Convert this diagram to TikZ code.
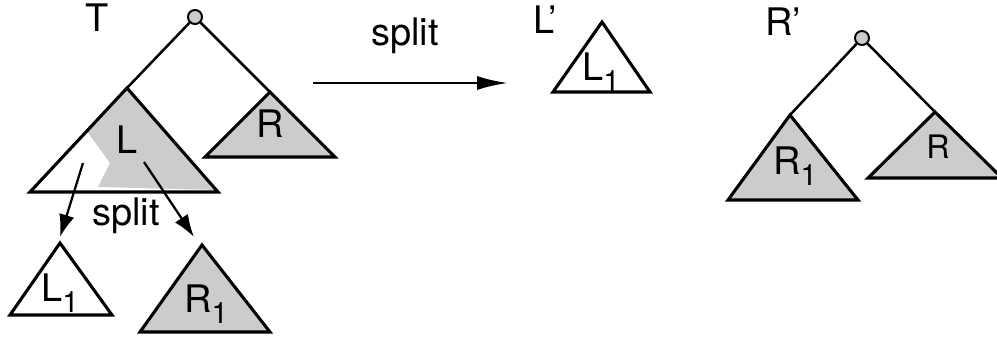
\documentclass[tikz,border=0pt]{standalone}
\usepackage{fontspec}
\setmainfont{TeX Gyre Heros}
\usetikzlibrary{arrows.meta}
\definecolor{treegray}{gray}{0.80}
\newcommand{\lowsub}[1]{\raisebox{-0.55ex}{\fontsize{21}{21}\selectfont #1}}
\tikzset{
  lbl/.style={font=\fontsize{27}{30}\selectfont, inner sep=0pt},
  tri/.style={line width=2.2pt, line join=miter},
  edge/.style={line width=1.8pt},
  knot/.style={circle, draw, line width=1.4pt, fill=treegray, minimum size=10pt, inner sep=0pt},
  splitarrow/.style={line width=1.6pt, -{Latex[length=16pt, width=11pt]}}
}
\begin{document}
\begin{tikzpicture}[x=0.025cm, y=-0.025cm]
\useasboundingbox (0,0) rectangle (997,336);
%% tree T
\node[knot] (rootT) at (195,17) {};
\coordinate (apexL) at (127,88);
\coordinate (apexR) at (270,92);
\fill[treegray] (apexL) -- (218,190) -- (98,187) -- (110,163) -- (86,130) -- cycle;
\draw[tri] (apexL) -- (30,192) -- (218,192) -- cycle;
\draw[tri, fill=treegray] (apexR) -- (205,157) -- (335,157) -- cycle;
\draw[edge] (rootT) -- (apexL);
\draw[edge] (rootT) -- (apexR);
\node[lbl] (labT) at (97,18) {T};
\node[lbl] (labL) at (127,140) {L};
\node[lbl] (labR) at (270,124) {R};
%% split of L
\coordinate (fromA) at (83,163);
\coordinate (toA) at (60,237);
\coordinate (fromB) at (144,162);
\coordinate (toB) at (194,237);
\draw[splitarrow] (fromA) -- (toA);
\draw[splitarrow] (fromB) -- (toB);
\node[lbl] (labsplitA) at (126,216) {split};
\draw[tri, fill=white] (60,243) -- (10,315) -- (112,315) -- cycle;
\node[lbl] (labLa) at (60,293) {L\lowsub{1}};
\draw[tri, fill=treegray] (202,245) -- (140,332) -- (270,332) -- cycle;
\node[lbl] (labRa) at (206,304) {R\lowsub{1}};
%% big arrow
\coordinate (fromC) at (313,83);
\coordinate (toC) at (508,83);
\draw[splitarrow, line width=2pt, -{Latex[length=22pt, width=10pt]}] (fromC) -- (toC);
\node[lbl] (labsplitB) at (405,36) {split};
%% L'
\node[lbl] (labLp) at (545,20) {L’};
\draw[tri] (602,22) -- (553,92) -- (650,92) -- cycle;
\node[lbl] (labLb) at (601,72) {L\lowsub{1}};
%% R'
\node[lbl] (labRp) at (783,22) {R’};
\node[knot] (rootR) at (862,38) {};
\coordinate (apexRa) at (790,115);
\coordinate (apexRb) at (935,112);
\draw[tri, fill=treegray] (apexRa) -- (728,200) -- (858,200) -- cycle;
\draw[tri, fill=treegray] (apexRb) -- (868,178) -- (1002,178) -- cycle;
\draw[edge] (rootR) -- (apexRa);
\draw[edge] (rootR) -- (apexRb);
\node[lbl] (labRb) at (795,166) {R\lowsub{1}};
\node[lbl, font=\fontsize{23}{26}\selectfont] (labRc) at (938,147) {R};
\end{tikzpicture}
\end{document}
